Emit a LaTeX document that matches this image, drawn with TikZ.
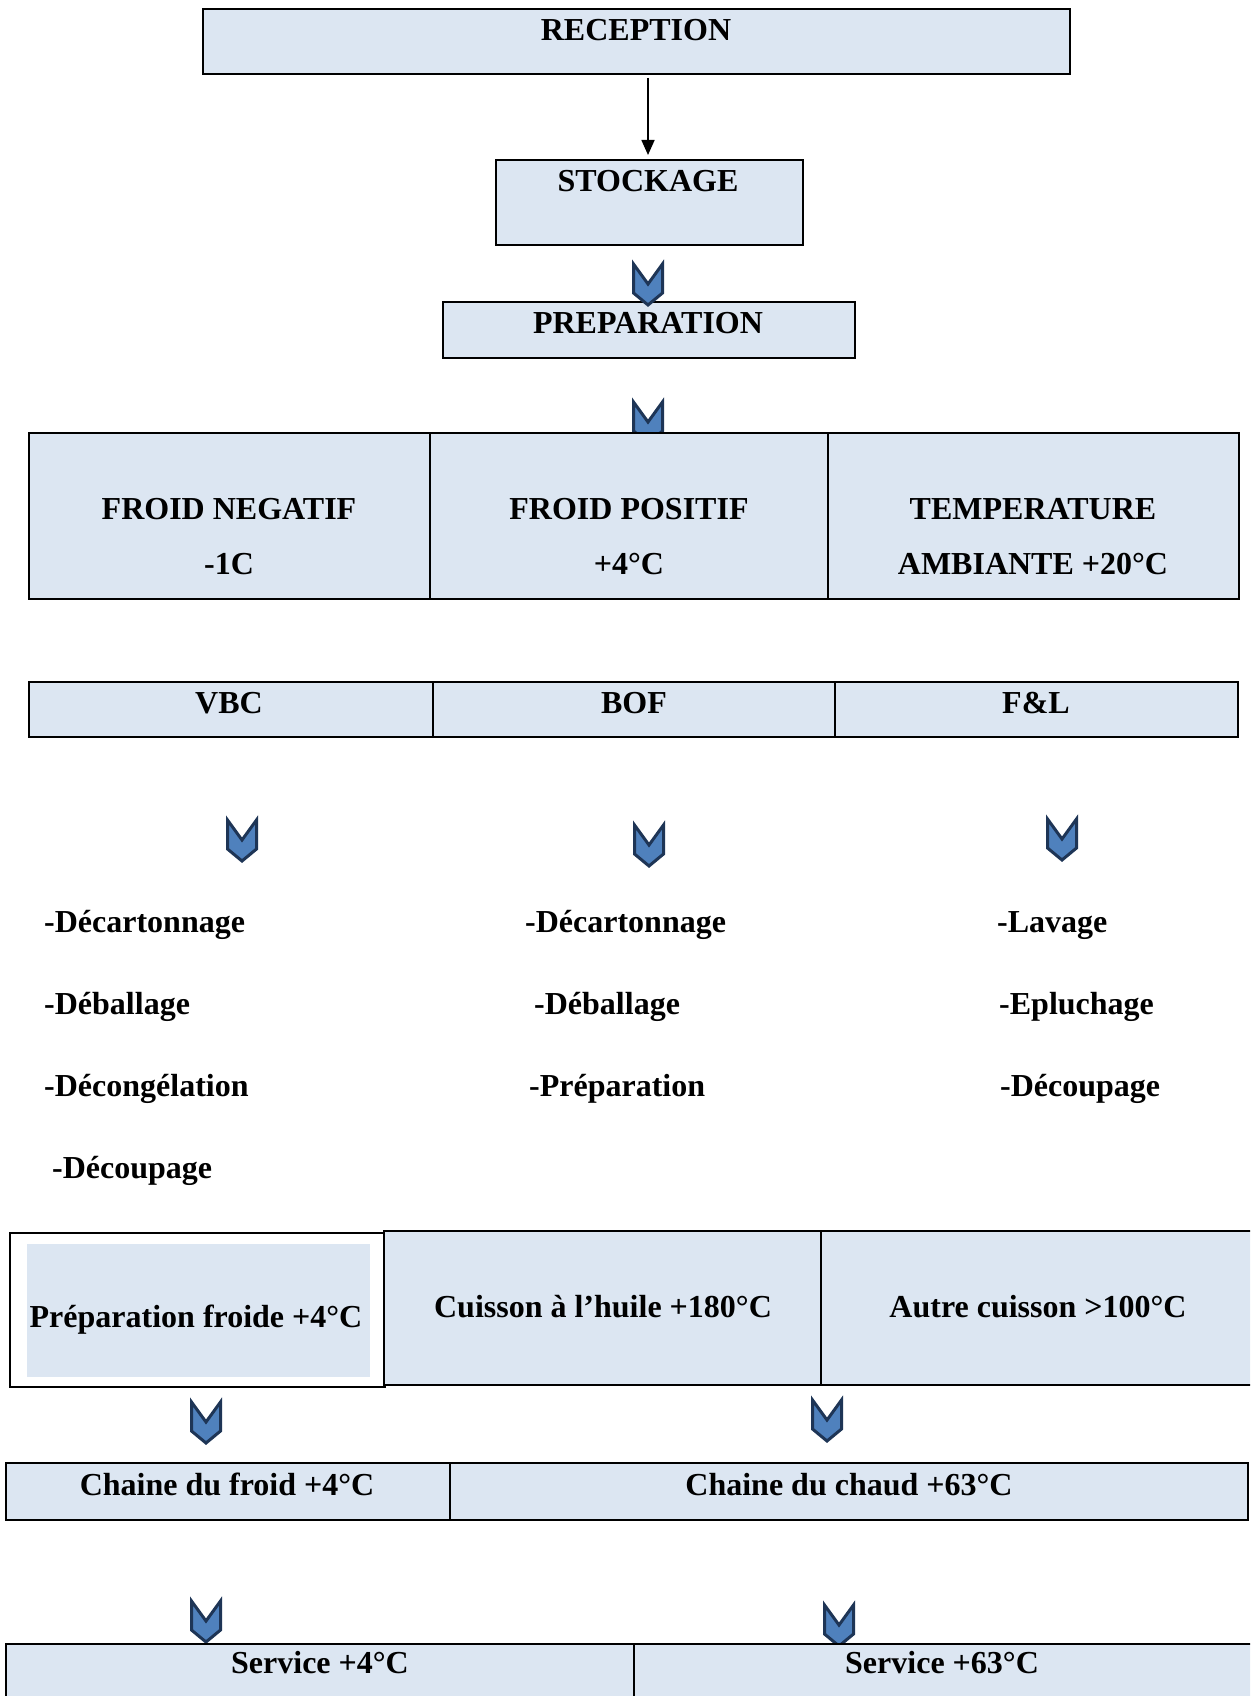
\documentclass[tikz,border=0pt]{standalone}
\usepackage{fontspec}
\setmainfont{Liberation Serif}
\usetikzlibrary{arrows.meta}
\definecolor{boxfill}{HTML}{DCE6F2}
\definecolor{chevfill}{HTML}{4F81BD}
\definecolor{chevline}{HTML}{1E3556}
\newcommand\mychev[2]{%
  \draw[chev] (#1-14.5,#2+2) -- (#1,#2+22) -- (#1+14.5,#2+2) -- (#1+14.5,#2+31) -- (#1,#2+43) -- (#1-14.5,#2+31) -- cycle;}
\begin{document}
\begin{tikzpicture}[x=1pt,y=-1pt,
  box/.style={draw=black, fill=boxfill, line width=1.6pt, anchor=north west, inner sep=0pt, outer sep=0pt},
  txt/.style={anchor=base, inner sep=0pt, font=\fontsize{32}{38}\selectfont\bfseries},
  ltxt/.style={anchor=base west, inner sep=0pt, font=\fontsize{32}{38}\selectfont\bfseries},
  chev/.style={fill=chevfill, draw=chevline, line width=3pt, line join=miter}]
\clip (0,0) rectangle (1250,1696);
\fill[white] (0,0) rectangle (1250,1696);

% top chain
\node[box, minimum width=867pt, minimum height=65pt] (rec) at (203,9) {};
\node[txt] (rect) at (636,41) {RECEPTION};
\node[box, minimum width=307pt, minimum height=85pt] (stk) at (496,160) {};
\node[txt] (stkt) at (648,192) {STOCKAGE};
\draw[line width=1.6pt, -{Triangle[length=15pt,width=13pt]}] (648,78) coordinate (a0) -- (648,155) coordinate (a1);
\node[box, minimum width=412pt, minimum height=56pt] (prep) at (443,302) {};
\node[txt] (prept) at (648,333) {PREPARATION};
\mychev{648}{262}

% three temperature cells
\mychev{648}{400}
\node[box, minimum width=401pt, minimum height=166pt] (fn) at (29,433) {};
\node[box, minimum width=398pt, minimum height=166pt] (fp) at (430,433) {};
\node[box, minimum width=411pt, minimum height=166pt] (ta) at (828,433) {};
\node[txt] at (229,519) {FROID NEGATIF};
\node[txt] at (229,574) {-1C};
\node[txt] at (629,519) {FROID POSITIF};
\node[txt] at (629,574) {+4°C};
\node[txt] at (1033,519) {TEMPERATURE};
\node[txt] at (1033,574) {AMBIANTE +20°C};

% VBC BOF F&L
\node[box, minimum width=404pt, minimum height=55pt] (vbc) at (29,682) {};
\node[box, minimum width=402pt, minimum height=55pt] (bof) at (433,682) {};
\node[box, minimum width=403pt, minimum height=55pt] (fl) at (835,682) {};
\node[txt] at (229,713) {VBC};
\node[txt] at (634,713) {BOF};
\node[txt] at (1036,713) {F\&L};

\mychev{242}{818}
\mychev{649}{823}
\mychev{1062}{817}

% lists
\node[ltxt] at (44,932) {-Décartonnage};
\node[ltxt] at (44,1014) {-Déballage};
\node[ltxt] at (44,1096) {-Décongélation};
\node[ltxt] at (52,1178) {-Découpage};
\node[ltxt] at (525,932) {-Décartonnage};
\node[ltxt] at (534,1014) {-Déballage};
\node[ltxt] at (529,1096) {-Préparation};
\node[ltxt] at (997,932) {-Lavage};
\node[ltxt] at (999,1014) {-Epluchage};
\node[ltxt] at (1000,1096) {-Découpage};

% cooking row
\node[box, fill=white, minimum width=375pt, minimum height=154pt] (pf) at (10,1233) {};
\node[fill=boxfill, anchor=north west, inner sep=0pt, minimum width=343pt, minimum height=133pt] (pfin) at (27,1244) {};
\node[txt] at (196,1327) {Préparation froide +4°C};
\node[box, minimum width=437pt, minimum height=154pt] (ch) at (384,1231) {};
\node[box, minimum width=440pt, minimum height=154pt] (ac) at (821,1231) {};
\node[txt] at (603,1317) {Cuisson à l’huile +180°C};
\node[txt] at (1038,1317) {Autre cuisson >100°C};

\mychev{206}{1400}
\mychev{827}{1398}

% chains
\node[box, minimum width=444pt, minimum height=57pt] (cf) at (6,1463) {};
\node[box, minimum width=798pt, minimum height=57pt] (cc) at (450,1463) {};
\node[txt] at (227,1495) {Chaine du froid +4°C};
\node[txt] at (849,1495) {Chaine du chaud +63°C};

\mychev{206}{1599}
\mychev{839}{1603}

% service
\node[box, minimum width=628pt, minimum height=70pt] (s4) at (6,1644) {};
\node[box, minimum width=620pt, minimum height=70pt] (s63) at (634,1644) {};
\node[txt] at (320,1673) {Service +4°C};
\node[txt] at (942,1673) {Service +63°C};
\end{tikzpicture}
\end{document}
